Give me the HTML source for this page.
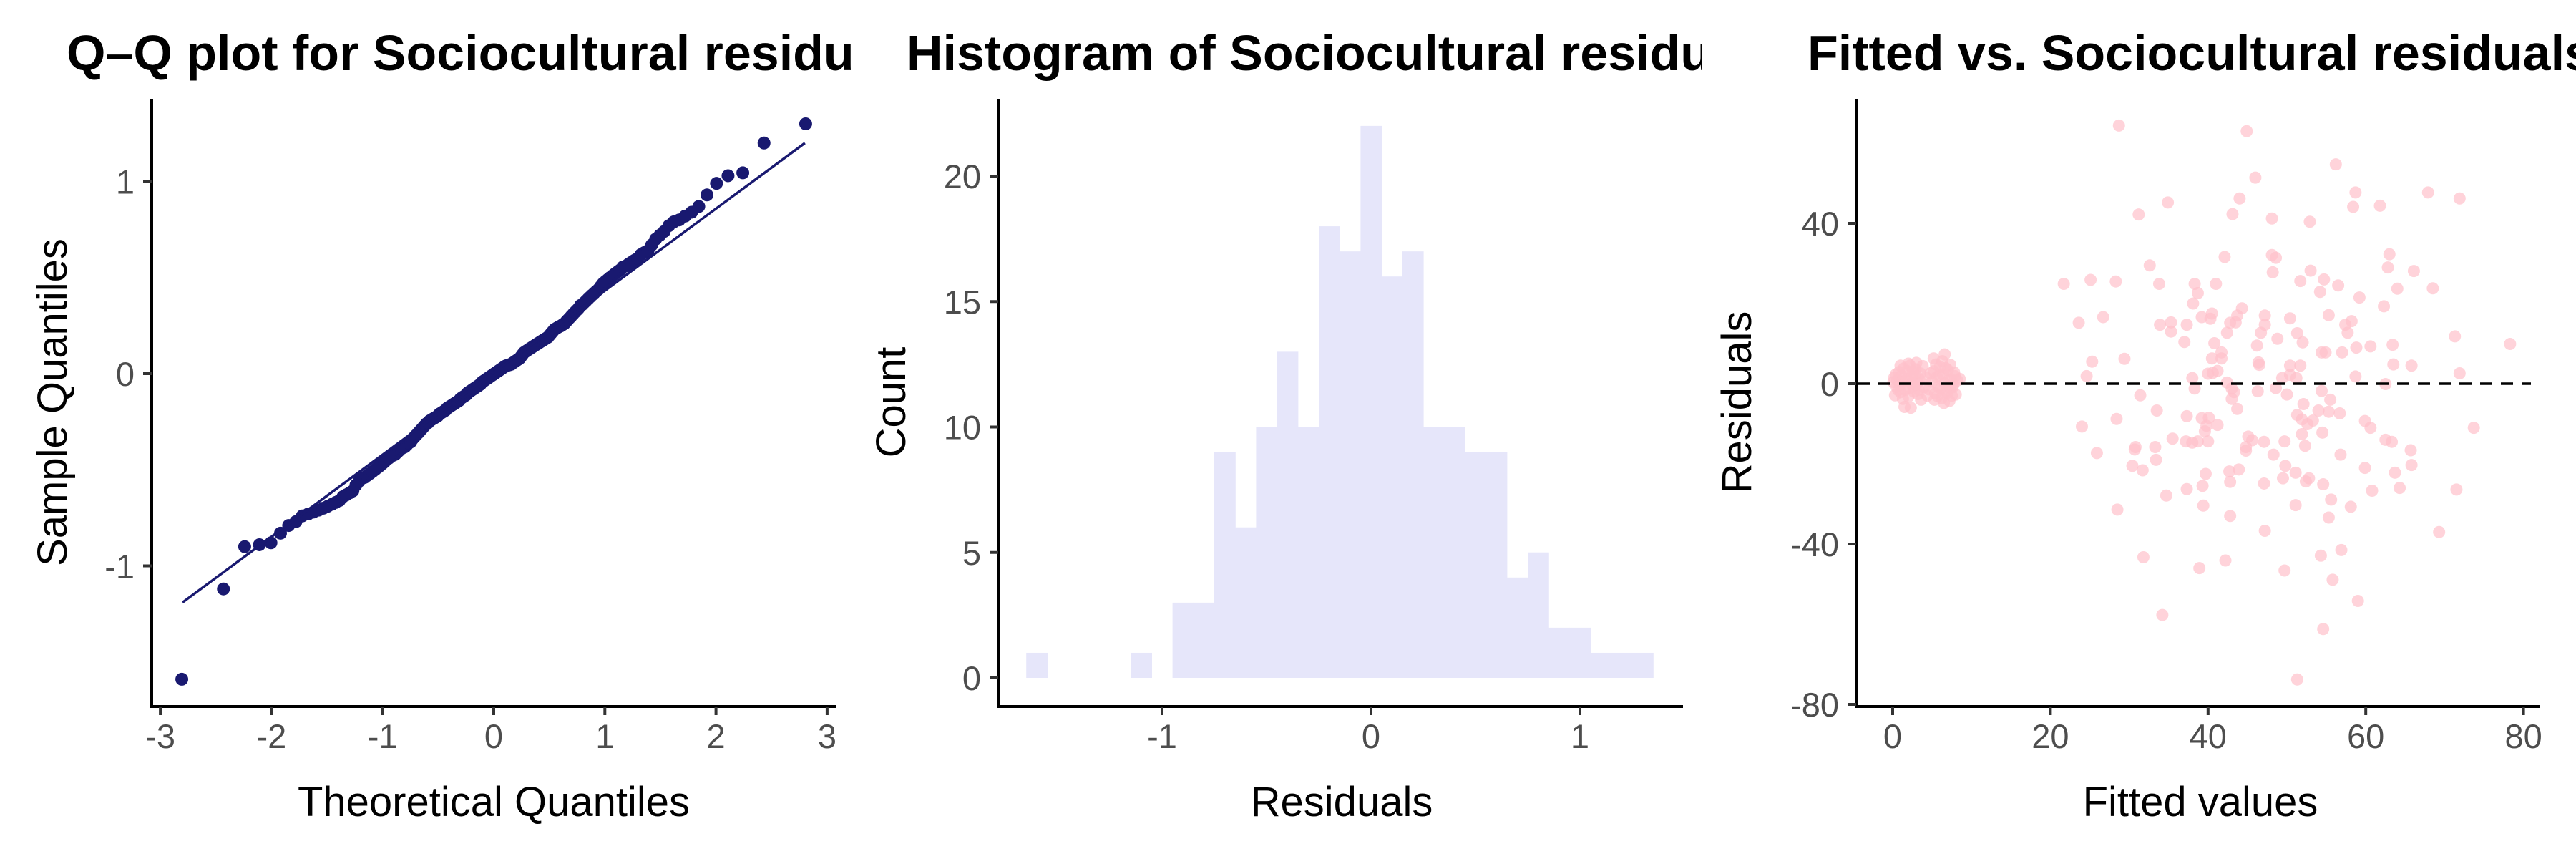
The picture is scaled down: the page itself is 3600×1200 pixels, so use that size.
<!DOCTYPE html>
<html><head><meta charset="utf-8"><title>Sociocultural residual diagnostics</title>
<style>
html,body{margin:0;padding:0;background:#fff;}
svg{display:block;font-family:"Liberation Sans",Arial,sans-serif;}
.tick{font-size:47px;fill:#4d4d4d;}
.atitle{font-size:58px;fill:#000;}
.ptitle{font-size:70px;font-weight:bold;fill:#000;}
</style></head>
<body>
<svg id="chart" width="3600" height="1200" viewBox="0 0 3600 1200" xmlns="http://www.w3.org/2000/svg">
<defs>
<clipPath id="clip1"><rect x="0" y="0" width="1195" height="1200"/></clipPath>
<clipPath id="clip2"><rect x="1200" y="0" width="1179" height="1200"/></clipPath>
<clipPath id="clip3"><rect x="2400" y="0" width="1200" height="1200"/></clipPath>
</defs>
<rect x="0" y="0" width="3600" height="1200" fill="#fff"/>
<g id="p1"></g>
<g id="p2"></g>
<g id="p3"></g>
</svg>
<script>
// ---------- QQ plot data ----------
const qqSample = [-1.59,-1.12,-0.90,-0.89,-0.88,-0.83,-0.79,-0.77,
-0.74,-0.73,-0.72,-0.71,-0.70,-0.69,-0.68,-0.67,-0.66,
-0.64,-0.63,-0.62,-0.61,-0.58,-0.56,
-0.545,-0.54,-0.53,-0.52,-0.51,-0.50,-0.49,-0.48,-0.47,-0.46,
-0.445,-0.44,-0.43,-0.425,-0.42,-0.41,-0.40,-0.39,-0.385,-0.38,-0.37,-0.36,-0.355,
-0.34,-0.33,-0.32,-0.31,-0.30,-0.29,-0.28,-0.27,-0.26,-0.255,
-0.245,-0.24,-0.235,-0.23,-0.225,-0.22,-0.21,-0.205,-0.20,-0.195,-0.19,-0.18,-0.175,-0.17,-0.165,-0.16,-0.155,-0.15,
-0.145,-0.14,-0.13,-0.125,-0.12,-0.115,-0.11,-0.10,-0.095,-0.09,-0.085,-0.08,-0.075,-0.07,-0.065,-0.06,-0.055,
-0.045,-0.04,-0.035,-0.03,-0.025,-0.02,-0.015,-0.01,-0.005,0.0,0.005,0.01,0.015,0.02,0.025,0.03,0.035,0.04,0.042,0.045,0.047,0.049,
0.055,0.06,0.065,0.07,0.075,0.08,0.09,0.10,0.11,0.115,0.12,0.125,0.13,0.135,0.14,0.145,
0.15,0.155,0.16,0.165,0.17,0.175,0.18,0.185,0.19,0.20,0.21,0.22,0.23,0.235,0.24,0.245,0.249,
0.255,0.26,0.27,0.28,0.29,0.30,0.31,0.32,0.33,0.34,
0.355,0.36,0.37,0.38,0.39,0.40,0.41,0.42,0.43,0.44,
0.455,0.47,0.48,0.49,0.50,0.51,0.52,0.53,0.54,
0.555,0.56,0.57,0.58,0.59,0.60,0.62,0.63,0.64,
0.67,0.70,0.72,0.74,
0.77,0.79,0.80,0.82,0.84,
0.87,0.93,0.99,1.03,1.045,1.20,1.30];
const qqLineX = [-2.8, 2.8];
const qqLineY = [-1.19, 1.20];
const qqXTicks = [-3,-2,-1,0,1,2,3];
const qqXTickLabels = ["-3","-2","-1","0","1","2","3"];
const qqYTicks = [-1,0,1];
const qqYTickLabels = ["-1","0","1"];

// ---------- Histogram data ----------
const histCenters = [-1.6,-1.5,-1.4,-1.3,-1.2,-1.1,-1.0,-0.9,-0.8,-0.7,-0.6,-0.5,-0.4,-0.3,-0.2,-0.1,0.0,0.1,0.2,0.3,0.4,0.5,0.6,0.7,0.8,0.9,1.0,1.1,1.2,1.3];
const histCounts  = [1,0,0,0,0,1,0,3,3,9,6,10,13,10,18,17,22,16,17,10,10,9,9,4,5,2,2,1,1,1];
const histBinWidth = 0.1;
const histXTicks = [-1,0,1];
const histXTickLabels = ["-1","0","1"];
const histYTicks = [0,5,10,15,20];
const histYTickLabels = ["0","5","10","15","20"];

// ---------- Fitted vs residuals data ----------
const fittedVals = [28.7,44.9,56.2,46,58.7,67.9,71.9,34.9,44,58.4,61.8,31.2,43.1,48.1,52.9,42.1,48.1,48.6,63,62.8,32.6,48.2,53,66.1,21.7,25.1,28.3,33.8,38.3,41,51.7,54.7,56.5,68.5,64,38.7,54.2,59.2,38.1,44.3,62.3,26.7,23.6,39.2,40.5,40.3,43.7,47.2,50.4,55.3,58.2,35.3,33.9,37.3,42.8,43.5,47.2,57.4,35.3,42.4,46.7,51.3,57.7,71.3,37,40.8,48.8,52,60.6,63.4,78.3,41.7,54.4,54.9,57,58.8,46.2,29.4,25.3,40.5,41.7,46.4,46.5,50.4,51.7,63.5,65.8,24.6,38,40,40.6,41.2,49.4,50.4,51.2,58.7,71.9,62.5,42.4,43,43.3,48.6,46.3,38.3,31.4,50,54.4,55.5,43,43.7,52.1,54,55.3,56.7,33.5,51.3,51.9,53.3,52.6,28.4,37.3,39.2,40.1,39.8,41.2,59.9,60.6,73.7,24,39.6,51.9,54.5,35.5,37.2,38,38.7,40,45.1,45.6,47.1,49.7,62.5,63.3,30.8,33.3,30.7,44.8,44.8,52.3,65.7,25.9,48.3,56.8,33.4,30.4,49.8,59.9,65.8,31.7,39.7,42.7,43.9,51.1,63.7,49.5,52.8,52.4,42.8,47.1,54.6,39.3,37.3,71.5,60.8,64.3,34.7,55.6,39.4,51.1,58.1,28.5,42.8,55.3,47.2,69.3,56.9,54.3,31.8,42.2,38.9,49.7,55.8,59,34.2,54.6,51.3,
0.2,0.5,0.8,1.0,1.2,1.4,1.6,1.8,2.0,2.2,2.4,2.6,2.8,3.0,3.2,3.4,3.6,0.3,0.6,0.9,1.1,1.3,1.5,1.7,1.9,2.1,2.3,2.5,2.7,2.9,3.1,3.3,3.5,3.8,4.0,4.2,0.1,0.4,0.7,2.0,1.0,2.6,3.0,5.0,5.2,5.4,5.6,5.8,6.0,6.2,6.4,6.6,6.8,7.0,7.2,7.4,7.6,7.8,8.0,8.2,8.5,5.3,5.5,5.7,5.9,6.1,6.3,6.5,6.7,6.9,7.1,7.3,7.5,7.7,7.9,4.6,4.8,6.6,5.2,7.3,4.4];
const residVals = [64.4,63,54.7,51.4,47.7,47.7,46.2,45.2,46.2,44.1,44.4,42.2,42.3,41.2,40.4,31.6,32.1,31.4,32.3,29,29.5,27.8,28.2,28.1,24.9,25.9,25.5,24.9,24.9,24.9,25.6,26,24.5,23.8,23.7,22.6,22.9,21.5,20,18.8,19.3,16.6,15.2,16.6,17.5,16.2,17,17,16.3,17.1,15.6,15.3,14.7,14.7,15.2,15.3,14.7,14.7,13,12.7,12.7,12.6,12.7,11.8,10.4,10.1,11.2,10.3,9.3,9.7,9.9,7.8,7.8,7.8,7.8,9,9.5,6.2,5.5,6.3,6.3,5.3,4.7,4.5,4.5,4.8,4.5,1.9,1.4,2.5,2.7,3.2,1.4,2.2,1.4,1.8,2.6,-0.1,0.3,-1.2,-2.1,-1.1,-1.9,-1.2,-2.9,-2.7,-1.8,-4,-3.8,-6.3,-5.1,-6.7,-7,-7.4,-6.7,-7.8,-8.9,-9.2,-10.1,-8.8,-8.1,-8.6,-8.5,-10.5,-10.3,-9.3,-11,-11,-10.7,-11.9,-12.6,-12.2,-13.7,-14.4,-14.7,-14.4,-14.4,-13.2,-14.1,-14.5,-14.4,-14,-14.5,-15.8,-15.8,-16.4,-15.8,-16.7,-15.5,-16.6,-17.3,-17.7,-17.7,-19,-20.5,-20.5,-21,-20.3,-21.6,-22.5,-21.9,-21.4,-22.2,-22.2,-23.6,-23.6,-24.4,-24.5,-24.9,-25.1,-25.5,-26.3,-26.4,-26.7,-26,-27.9,-28.9,-30.4,-30.3,-30.7,-31.4,-33,-33.4,-36.7,-37,-41.5,-42.9,-43.3,-44.1,-46,-46.6,-48.9,-54.2,-57.7,-61.2,-73.8,
1.5,-0.8,2.9,-2.1,0.4,3.8,-1.5,1.2,-3.2,4.5,0.0,-0.6,2.2,5.2,-2.6,1.0,-4.0,-2.9,0.9,-0.3,2.0,-3.8,-5.8,0.7,3.1,-1.1,-6.0,1.8,-2.0,3.6,0.3,-1.5,2.6,4.4,-0.9,1.6,0.4,2.3,-1.6,5.0,4.5,3.0,-0.2,0.5,3.1,-2.4,1.7,-0.7,4.2,-3.6,2.3,0.1,-1.8,3.4,-4.3,1.1,-0.9,2.8,-2.7,0.8,1.2,-4.0,4.8,-3.1,2.0,-1.2,5.6,-4.8,3.9,-2.3,0.9,4.7,-3.0,-0.3,1.9,-1.4,2.6,7.3,6.3,-1.0,-3.0];
const scXTicks = [0,20,40,60,80];
const scXTickLabels = ["0","20","40","60","80"];
const scYTicks = [-80,-40,0,40];
const scYTickLabels = ["-80","-40","0","40"];

// ---------- helpers ----------
const NS = "http://www.w3.org/2000/svg";
function mk(tag, attrs, parent){
  const e = document.createElementNS(NS, tag);
  for (const k in attrs) e.setAttribute(k, attrs[k]);
  parent.appendChild(e);
  return e;
}
function qnorm(p){
  const a=[-3.969683028665376e+01,2.209460984245205e+02,-2.759285104469687e+02,1.383577518672690e+02,-3.066479806614716e+01,2.506628277459239e+00];
  const b=[-5.447609879822406e+01,1.615858368580409e+02,-1.556989798598866e+02,6.680131188771972e+01,-1.328068155288572e+01];
  const c=[-7.784894002430293e-03,-3.223964580411365e-01,-2.400758277161838e+00,-2.549732539343734e+00,4.374664141464968e+00,2.938163982698783e+00];
  const d=[7.784695709041462e-03,3.224671290700398e-01,2.445134137142996e+00,3.754408661907416e+00];
  const pl=0.02425;
  let q,r;
  if(p<pl){q=Math.sqrt(-2*Math.log(p));return (((((c[0]*q+c[1])*q+c[2])*q+c[3])*q+c[4])*q+c[5])/((((d[0]*q+d[1])*q+d[2])*q+d[3])*q+1);}
  if(p>1-pl){q=Math.sqrt(-2*Math.log(1-p));return -(((((c[0]*q+c[1])*q+c[2])*q+c[3])*q+c[4])*q+c[5])/((((d[0]*q+d[1])*q+d[2])*q+d[3])*q+1);}
  q=p-0.5;r=q*q;
  return (((((a[0]*r+a[1])*r+a[2])*r+a[3])*r+a[4])*r+a[5])*q/(((((b[0]*r+b[1])*r+b[2])*r+b[3])*r+b[4])*r+1);
}
function axes(g, ax){
  const yl = mk("line",{x1:ax.x0,y1:ax.y0,x2:ax.x0,y2:ax.y1,stroke:"#000","stroke-width":4},g);
  
  
  const xl = mk("line",{x1:ax.x0-2,y1:ax.y1,x2:ax.x1,y2:ax.y1,stroke:"#000","stroke-width":4},g);
  
  
  ax.xt.forEach((v,i)=>{
    const x = ax.xs(v);
    const t = mk("line",{x1:x,y1:ax.y1,x2:x,y2:ax.y1+12,stroke:"#333","stroke-width":4},g);
    
    
    const l = mk("text",{x:x,y:ax.y1+58,"text-anchor":"middle",class:"tick"},g);
    
    
    l.textContent = ax.xtl[i];
  });
  ax.yt.forEach((v,i)=>{
    const y = ax.ys(v);
    const t = mk("line",{x1:ax.x0-12,y1:y,x2:ax.x0,y2:y,stroke:"#333","stroke-width":4},g);
    
    
    const l = mk("text",{x:ax.x0-24,y:y+17,"text-anchor":"end",class:"tick"},g);
    
    
    l.textContent = ax.ytl[i];
  });
}
function labels(g, o){
  const t = mk("text",{x:o.tx,y:98,class:"ptitle","clip-path":o.clip},g);
  
  
  t.textContent = o.title;
  const xt = mk("text",{x:o.xtx,y:1140,"text-anchor":"middle",class:"atitle"},g);
  
  
  xt.textContent = o.xtitle;
  const yt = mk("text",{x:0,y:0,"text-anchor":"middle",class:"atitle",transform:"translate("+o.ytx+",562) rotate(-90)"},g);
  
  
  yt.textContent = o.ytitle;
}

// ---------- Panel 1: QQ ----------
(function(){
  const g = document.getElementById("p1");
  const xs = v => 690 + v*155.3;
  const ys = v => 522 - v*268.5;
  const n = qqSample.length;
  const sorted = qqSample.slice().sort((a,b)=>a-b);
  const a = n > 10 ? 0.5 : 3/8;
  sorted.forEach((s,i)=>{
    const th = qnorm((i+1-a)/(n+1-2*a));
    const c = mk("circle",{cx:xs(th),cy:ys(s),r:9,fill:"#191970"},g);
    
    
  });
  const ln = mk("line",{x1:xs(qqLineX[0]),y1:ys(qqLineY[0]),x2:xs(qqLineX[1]),y2:ys(qqLineY[1]),stroke:"#191970","stroke-width":3.5},g);
  
  
  axes(g,{x0:212,x1:1169,y0:138,y1:987,xs:xs,ys:ys,xt:qqXTicks,xtl:qqXTickLabels,yt:qqYTicks,ytl:qqYTickLabels});
  labels(g,{tx:93,clip:"url(#clip1)",title:"Q\u2013Q plot for Sociocultural residuals",xtx:690,xtitle:"Theoretical Quantiles",ytx:93,ytitle:"Sample Quantiles"});
})();

// ---------- Panel 2: Histogram ----------
(function(){
  const g = document.getElementById("p2");
  const xs = v => 1916 + v*292;
  const ys = v => 947 - v*35.05;
  histCenters.forEach((c,i)=>{
    if(histCounts[i] <= 0) return;
    const x0 = xs(c - histBinWidth/2), x1 = xs(c + histBinWidth/2);
    const r = mk("rect",{x:x0,y:ys(histCounts[i]),width:x1-x0+0.6,height:ys(0)-ys(histCounts[i]),fill:"#E6E6FA"},g);
    
    
  });
  axes(g,{x0:1395,x1:2352,y0:138,y1:987,xs:xs,ys:ys,xt:histXTicks,xtl:histXTickLabels,yt:histYTicks,ytl:histYTickLabels});
  labels(g,{tx:1267,clip:"url(#clip2)",title:"Histogram of Sociocultural residuals",xtx:1875,xtitle:"Residuals",ytx:1265,ytitle:"Count"});
})();

// ---------- Panel 3: Fitted vs residuals ----------
(function(){
  const g = document.getElementById("p3");
  const xs = v => 2645 + v*11.02;
  const ys = v => 536 - v*5.6;
  fittedVals.forEach((f,i)=>{
    const c = mk("circle",{cx:xs(f),cy:ys(residVals[i]),r:8.5,fill:"#FFC0CB","fill-opacity":0.7},g);
    
    
  });
  const zl = mk("line",{x1:2596,y1:ys(0),x2:3537,y2:ys(0),stroke:"#000","stroke-width":3.5,"stroke-dasharray":"17 12"},g);
  
  
  axes(g,{x0:2594,x1:3550,y0:138,y1:987,xs:xs,ys:ys,xt:scXTicks,xtl:scXTickLabels,yt:scYTicks,ytl:scYTickLabels});
  labels(g,{tx:2526,clip:"url(#clip3)",title:"Fitted vs. Sociocultural residuals",xtx:3075,xtitle:"Fitted values",ytx:2447,ytitle:"Residuals"});
})();
</script>
</body></html>
